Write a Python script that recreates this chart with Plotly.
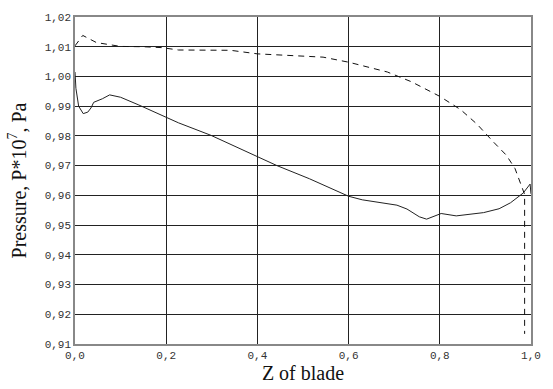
import plotly.graph_objects as go

# Pressure along the blade (P * 1e7, Pa) versus relative Z coordinate
z_solid = [0.0, 0.002, 0.008, 0.018, 0.028, 0.035, 0.041, 0.06, 0.076, 0.10, 0.14,
           0.2, 0.227, 0.298, 0.4, 0.443, 0.514, 0.6, 0.63, 0.68, 0.706, 0.728,
           0.755, 0.771, 0.785, 0.803, 0.836, 0.87, 0.896, 0.93, 0.955, 0.983,
           0.998, 1.0]
p_solid = [1.0015, 0.996, 0.990, 0.9875, 0.988, 0.9894, 0.9913, 0.9925, 0.9938, 0.9930, 0.9904,
           0.9861, 0.9844, 0.9802, 0.9732, 0.9700, 0.9656, 0.9597, 0.9585, 0.9572, 0.9567, 0.9554,
           0.9528, 0.9520, 0.9528, 0.9539, 0.9531, 0.9536, 0.9542, 0.9555, 0.9575, 0.9608,
           0.9638, 0.9605]

z_dash = [0.0, 0.017, 0.047, 0.079, 0.10, 0.15, 0.19, 0.227, 0.341, 0.4, 0.48,
          0.544, 0.6, 0.659, 0.685, 0.738, 0.8, 0.846, 0.882, 0.918, 0.946,
          0.965, 0.976, 0.986, 0.986]
p_dash = [1.0103, 1.0138, 1.0114, 1.0106, 1.0101, 1.0100, 1.0097, 1.0089, 1.0088, 1.0076, 1.0070,
          1.0065, 1.0048, 1.0026, 1.0015, 0.9982, 0.9933, 0.9888, 0.9839, 0.9779, 0.9735,
          0.9690, 0.9647, 0.9603, 0.9134]

x_ticks = [0.0, 0.2, 0.4, 0.6, 0.8, 1.0]
y_ticks = [0.91, 0.92, 0.93, 0.94, 0.95, 0.96, 0.97, 0.98, 0.99, 1.00, 1.01, 1.02]

fig = go.Figure()
fig.add_trace(go.Scatter(x=z_dash, y=p_dash, mode="lines",
                         line=dict(color="#111111", width=1, dash="6px,5px"),
                         showlegend=False, hoverinfo="skip"))
fig.add_trace(go.Scatter(x=z_solid, y=p_solid, mode="lines",
                         line=dict(color="#222222", width=1),
                         showlegend=False, hoverinfo="skip"))

tick_font = dict(family="Liberation Mono, Courier New, monospace", size=11, color="#333333")
title_font = dict(family="Liberation Serif, Times New Roman, serif", size=20, color="#111111")

fig.update_layout(
    width=553, height=389,
    margin=dict(l=75, r=15, t=12, b=43),
    paper_bgcolor="white", plot_bgcolor="white",
    separators=", ",
    xaxis=dict(range=[0, 1], tickvals=x_ticks, tickformat=".1f",
               showgrid=True, gridcolor="#222222", gridwidth=1,
               showline=True, linecolor="#888888", linewidth=1.5, mirror=True,
               zeroline=False, ticks="", tickfont=tick_font,
               title=dict(text="Z of blade", standoff=1, font=title_font)),
    yaxis=dict(range=[0.91, 1.02], tickvals=y_ticks, tickformat=".2f",
               showgrid=True, gridcolor="#222222", gridwidth=1,
               showline=True, linecolor="#888888", linewidth=1.5, mirror=True,
               zeroline=False, ticks="", tickfont=tick_font,
               title=dict(text="Pressure, P*10<sup>7</sup>, Pa", standoff=13, font=title_font)),
)

fig.write_html("out.html")
